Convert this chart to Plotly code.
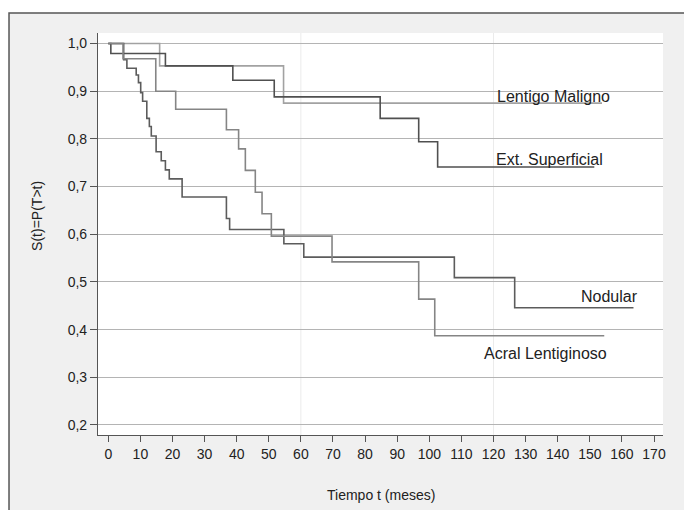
import plotly.graph_objects as go

# Kaplan-Meier step data (time in months, survival)
lm_t = [0, 16.0, 54.6, 153.8]
lm_s = [1.0, 0.953, 0.875, 0.875]

es_t = [0, 0.8, 17.8, 38.8, 51.7, 84.7, 96.7, 102.6, 151.4]
es_s = [1.0, 0.979, 0.953, 0.923, 0.888, 0.843, 0.794, 0.741, 0.741]

nod_t = [0, 4.8, 5.8, 8.7, 9.4, 10.1, 10.7, 12.0, 12.8, 13.4, 14.9, 16.5, 17.8, 19.0, 23.0,
         36.8, 37.8, 54.7, 60.9, 107.8, 126.6, 163.6]
nod_s = [1.0, 0.966, 0.948, 0.934, 0.918, 0.897, 0.879, 0.843, 0.826, 0.806, 0.773, 0.754, 0.735,
         0.716, 0.678, 0.633, 0.610, 0.580, 0.552, 0.509, 0.446, 0.446]

acr_t = [0, 4.6, 14.8, 21.0, 36.8, 40.6, 42.7, 45.8, 47.9, 50.8, 69.7, 96.7, 101.7, 154.5]
acr_s = [1.0, 0.968, 0.900, 0.862, 0.819, 0.779, 0.734, 0.688, 0.643, 0.596, 0.542, 0.464, 0.387, 0.387]

x_ticks = list(range(0, 171, 10))
y_ticks = [0.2, 0.3, 0.4, 0.5, 0.6, 0.7, 0.8, 0.9, 1.0]

series = [
    ("Lentigo Maligno", lm_t, lm_s, "#a2a2a2"),
    ("Ext. Superficial", es_t, es_s, "#505050"),
    ("Nodular", nod_t, nod_s, "#5c5c5c"),
    ("Acral Lentiginoso", acr_t, acr_s, "#858585"),
]

fig = go.Figure()
for name, t, s, c in series:
    fig.add_trace(go.Scatter(x=t, y=s, mode="lines", line=dict(shape="hv", color=c, width=1.6),
                             name=name, showlegend=False, hoverinfo="x+y"))

FONT = "Liberation Sans, Arial, sans-serif"

fig.update_layout(
    width=684, height=510,
    margin=dict(l=98, r=21, t=33, b=75),
    paper_bgcolor="white",
    plot_bgcolor="white",
    separators=",.",
    font=dict(family=FONT, size=14, color="#222"),
    shapes=[
        dict(type="rect", xref="paper", yref="paper", x0=-0.1575, x1=1.07, y0=-0.22, y1=1.0498,
             fillcolor="#f0f0f0", line=dict(color="#555", width=1.5), layer="below"),
        dict(type="rect", xref="paper", yref="paper", x0=0, x1=1, y0=0, y1=1,
             fillcolor="white", line=dict(width=0), layer="below"),
        dict(type="line", xref="x", yref="paper", x0=60, x1=60, y0=0, y1=1,
             line=dict(color="#ebebeb", width=1), layer="below"),
        dict(type="line", xref="x", yref="paper", x0=120, x1=120, y0=0, y1=1,
             line=dict(color="#ebebeb", width=1), layer="below"),
    ],
    xaxis=dict(range=[-3.2, 172.8], tickvals=x_ticks, showgrid=False, zeroline=False,
               showline=True, linecolor="#555", linewidth=1.2,
               ticks="outside", ticklen=6, tickcolor="#555", tickwidth=1,
               tickfont=dict(size=14, color="#222", family=FONT)),
    yaxis=dict(range=[0.179, 1.022], tickvals=y_ticks, tickformat=".1f",
               showgrid=True, gridcolor="#b4b4b4", gridwidth=1.2, zeroline=False,
               showline=True, linecolor="#555", linewidth=1.2,
               ticks="outside", ticklen=7, tickcolor="#555", tickwidth=1,
               tickfont=dict(size=14, color="#222", family=FONT)),
    annotations=[
        dict(x=120.6, y=0.8895, xref="x", yref="y", text="Lentigo Maligno", showarrow=False,
             xanchor="left", yanchor="middle", font=dict(size=16, color="#222")),
        dict(x=120.2, y=0.757, xref="x", yref="y", text="Ext. Superficial", showarrow=False,
             xanchor="left", yanchor="middle", font=dict(size=16, color="#222")),
        dict(x=146.7, y=0.47, xref="x", yref="y", text="Nodular", showarrow=False,
             xanchor="left", yanchor="middle", font=dict(size=16, color="#222")),
        dict(x=116.4, y=0.349, xref="x", yref="y", text="Acral Lentiginoso", showarrow=False,
             xanchor="left", yanchor="middle", font=dict(size=16, color="#222")),
        dict(x=-0.108, y=0.545, xref="paper", yref="paper", text="S(t)=P(T>t)", showarrow=False,
             textangle=-90, xanchor="center", yanchor="middle", font=dict(size=14, color="#222")),
        dict(x=0.5, y=-0.149, xref="paper", yref="paper", text="Tiempo t (meses)", showarrow=False,
             xanchor="center", yanchor="middle", font=dict(size=14, color="#222")),
    ],
)

fig.write_html("out.html")
